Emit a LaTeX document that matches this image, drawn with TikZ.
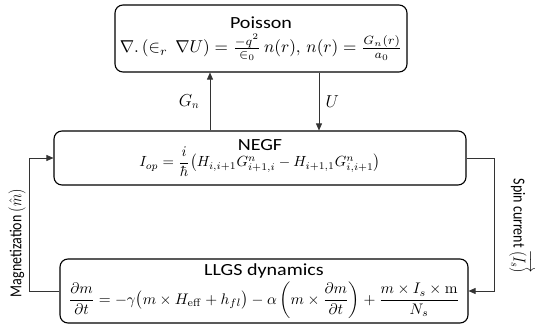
\documentclass[tikz,border=0pt]{standalone}
\usepackage{amsmath}
\usepackage{graphicx}
\usepackage[no-math]{fontspec}
\setmainfont{Carlito}
\usetikzlibrary{arrows.meta}
\newcommand{\ttl}[1]{\scalebox{1.18}[1]{\fontsize{17}{18}\selectfont #1}}
\newcommand{\eqn}[2]{\scalebox{#1}{$#2$}}
\begin{document}
\begin{tikzpicture}[x=1pt,y=-1pt,
  >={Triangle[length=7pt,width=6pt]},
  block/.style={draw,line width=1.1pt,rounded corners=8pt,align=center,
    inner sep=0pt},
  wire/.style={line width=0.7pt,draw=black!80},
  lbl/.style={font=\fontsize{16}{17}\selectfont}]
  \useasboundingbox (0,0) rectangle (539,324);
  \node[block,minimum width=292pt,minimum height=67pt] (poisson) at (261,38.5)
    {\ttl{Poisson}\\[5pt]\eqn{1.72}{\nabla.\left(\in_r\,\nabla U\right)=\tfrac{-q^2}{\in_0}\,n(r),\,n(r)=\tfrac{G_n(r)}{a_0}}};
  \node[block,minimum width=412pt,minimum height=54pt] (negf) at (260,158)
    {\ttl{NEGF}\\[-4pt]\eqn{1.47}{I_{op}=\dfrac{i}{\hbar}\bigl(H_{i,i+1}G^n_{i+1,i}-H_{i+1,1}G^n_{i,i+1}\bigr)}};
  \node[block,minimum width=408pt,minimum height=64pt] (llgs) at (264,291)
    {\ttl{LLGS dynamics}\\[3pt]\eqn{1.53}{\dfrac{\partial m}{\partial t}=-\gamma\bigl(m\times H_{\mathrm{eff}}+h_{fl}\bigr)-\alpha\left(m\times\dfrac{\partial m}{\partial t}\right)+\dfrac{m\times I_s\times\mathrm{m}}{N_s}}};
  % feedback loop coordinates
  \coordinate (gn) at (210,0);
  \coordinate (u) at (319,0);
  \coordinate (right) at (494,0);
  \coordinate (left) at (29,0);
  \draw[wire,->] (negf.north -| gn) -- (poisson.south -| gn)
    node[midway,left=7pt,lbl] {$G_n$};
  \draw[wire,->] (poisson.south -| u) -- (negf.north -| u)
    node[midway,right=3pt,lbl] {$U$};
  \draw[wire,->] (negf.east) -- (negf.east -| right) |- (llgs.east);
  \draw[wire,->] (llgs.west) -- (llgs.west -| left) |- (negf.west);
  \node[rotate=-90] (spin) at (518,226)
    {\scalebox{1}[1.2]{\fontsize{14}{15}\selectfont Spin current $(I_s)$\llap{\smash{\raisebox{0.75em}{$\longrightarrow$}}}}};
  \node[rotate=90] (mag) at (17,243)
    {\scalebox{1}[1.2]{\fontsize{14}{15}\selectfont Magnetization $(\hat{m})$}};
\end{tikzpicture}
\end{document}
